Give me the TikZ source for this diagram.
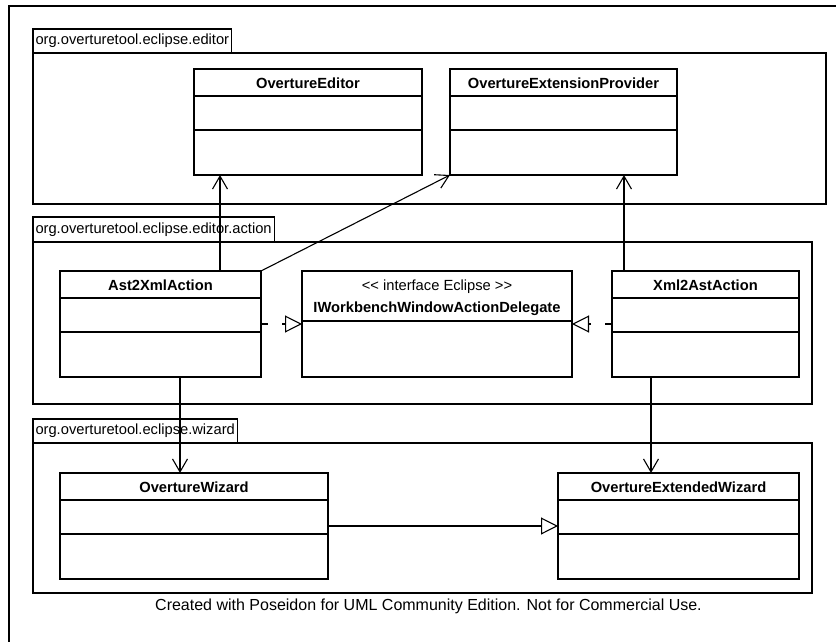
\documentclass[tikz,border=0pt]{standalone}
\usepackage{fontspec}
\setmainfont{Liberation Sans}
\usetikzlibrary{arrows.meta,calc}
\newcommand\umlfont{\fontsize{14.7}{17}\selectfont}
\begin{document}
\begin{tikzpicture}[x=1pt,y=-1pt,line width=1.1pt,font=\umlfont,
  cls/.style={draw,anchor=north west,inner sep=0pt,outer sep=0pt,minimum height=106pt},
  ttl/.style={font=\umlfont\bfseries,inner sep=0pt},
  pkgtab/.style={draw,anchor=north west,inner xsep=2.5pt,inner ysep=0pt,minimum height=24pt,outer sep=0pt},
  pkgbody/.style={draw,anchor=north west,inner sep=0pt,outer sep=0pt},
  assoc/.style={-{Straight Barb[length=13pt,width=15pt]}},
  realize/.style={dash pattern=on 7pt off 14pt,-{Triangle[open,length=17pt,width=17pt]}},
  gen/.style={-{Triangle[open,length=17pt,width=17pt]}}]
\useasboundingbox (0,0) rectangle (836,642);
\clip (0,0) rectangle (836,642);
\draw (9,680) -- (9,6) -- (860,6);

% packages
\node[pkgtab] (p1t) at (33,29) {org.overturetool.eclipse.editor};
\node[pkgbody,minimum width=793pt,minimum height=151pt] (p1) at (p1t.south west) {};
\node[pkgtab,minimum height=25pt] (p2t) at (33,217) {org.overturetool.eclipse.editor.action};
\node[pkgbody,minimum width=779pt,minimum height=162pt] (p2) at (p2t.south west) {};
\node[pkgtab] (p3t) at (33,419) {org.overturetool.eclipse.wizard};
\node[pkgbody,minimum width=779pt,minimum height=150pt] (p3) at (p3t.south west) {};

% classes
\node[cls,minimum width=228pt] (ed) at (194,69) {};
\node[cls,minimum width=227pt] (ep) at (450,69) {};
\node[cls,minimum width=201pt] (ast) at (60,271) {};
\node[cls,minimum width=270pt] (ifc) at (302,271) {};
\node[cls,minimum width=187pt] (xml) at (612,271) {};
\node[cls,minimum width=268pt] (wiz) at (60,473) {};
\node[cls,minimum width=241pt] (ewiz) at (558,473) {};

\foreach \c/\t in {ed/OvertureEditor,ep/OvertureExtensionProvider,ast/Ast2XmlAction,xml/Xml2AstAction,wiz/OvertureWizard,ewiz/OvertureExtendedWizard}{
  \node[ttl] (\c-name) at ($(\c.north)+(0,14)$) {\t};
  \draw ($(\c.north west)+(0,27)$) -- ($(\c.north east)+(0,27)$);
  \draw ($(\c.north west)+(0,61)$) -- ($(\c.north east)+(0,61)$);
}
\node[inner sep=0pt] (ifc-st) at ($(ifc.north)+(0,15.5)$) {<\kern0pt< interface Eclipse >\kern0pt>};
\node[ttl] (ifc-name) at ($(ifc.north)+(0,38)$) {IWorkbenchWindowActionDelegate};
\draw ($(ifc.north west)+(0,50)$) -- ($(ifc.north east)+(0,50)$);

% connectors
\draw[assoc] ($(ast.north west)+(160,0)$) -- ($(ed.south west)+(26,0)$);
\draw[assoc] (ast.north east) -- (ep.south west);
\draw[assoc] ($(xml.north west)+(12,0)$) -- ($(ep.south west)+(174,0)$);
\draw[assoc] ($(ast.south west)+(120,0)$) -- ($(wiz.north west)+(120,0)$);
\draw[assoc] ($(xml.south west)+(39,0)$) -- ($(ewiz.north west)+(93,0)$);
\draw[realize] (ast.east) -- (ifc.west);
\draw[realize] (xml.west) -- (ifc.east);
\draw[gen] (wiz.east) -- (ewiz.west);

\node[font=\fontsize{16}{19}\selectfont] (credit) at (428.5,606) {Created with Poseidon for UML Community Edition. Not for Commercial Use.};
\end{tikzpicture}
\end{document}
